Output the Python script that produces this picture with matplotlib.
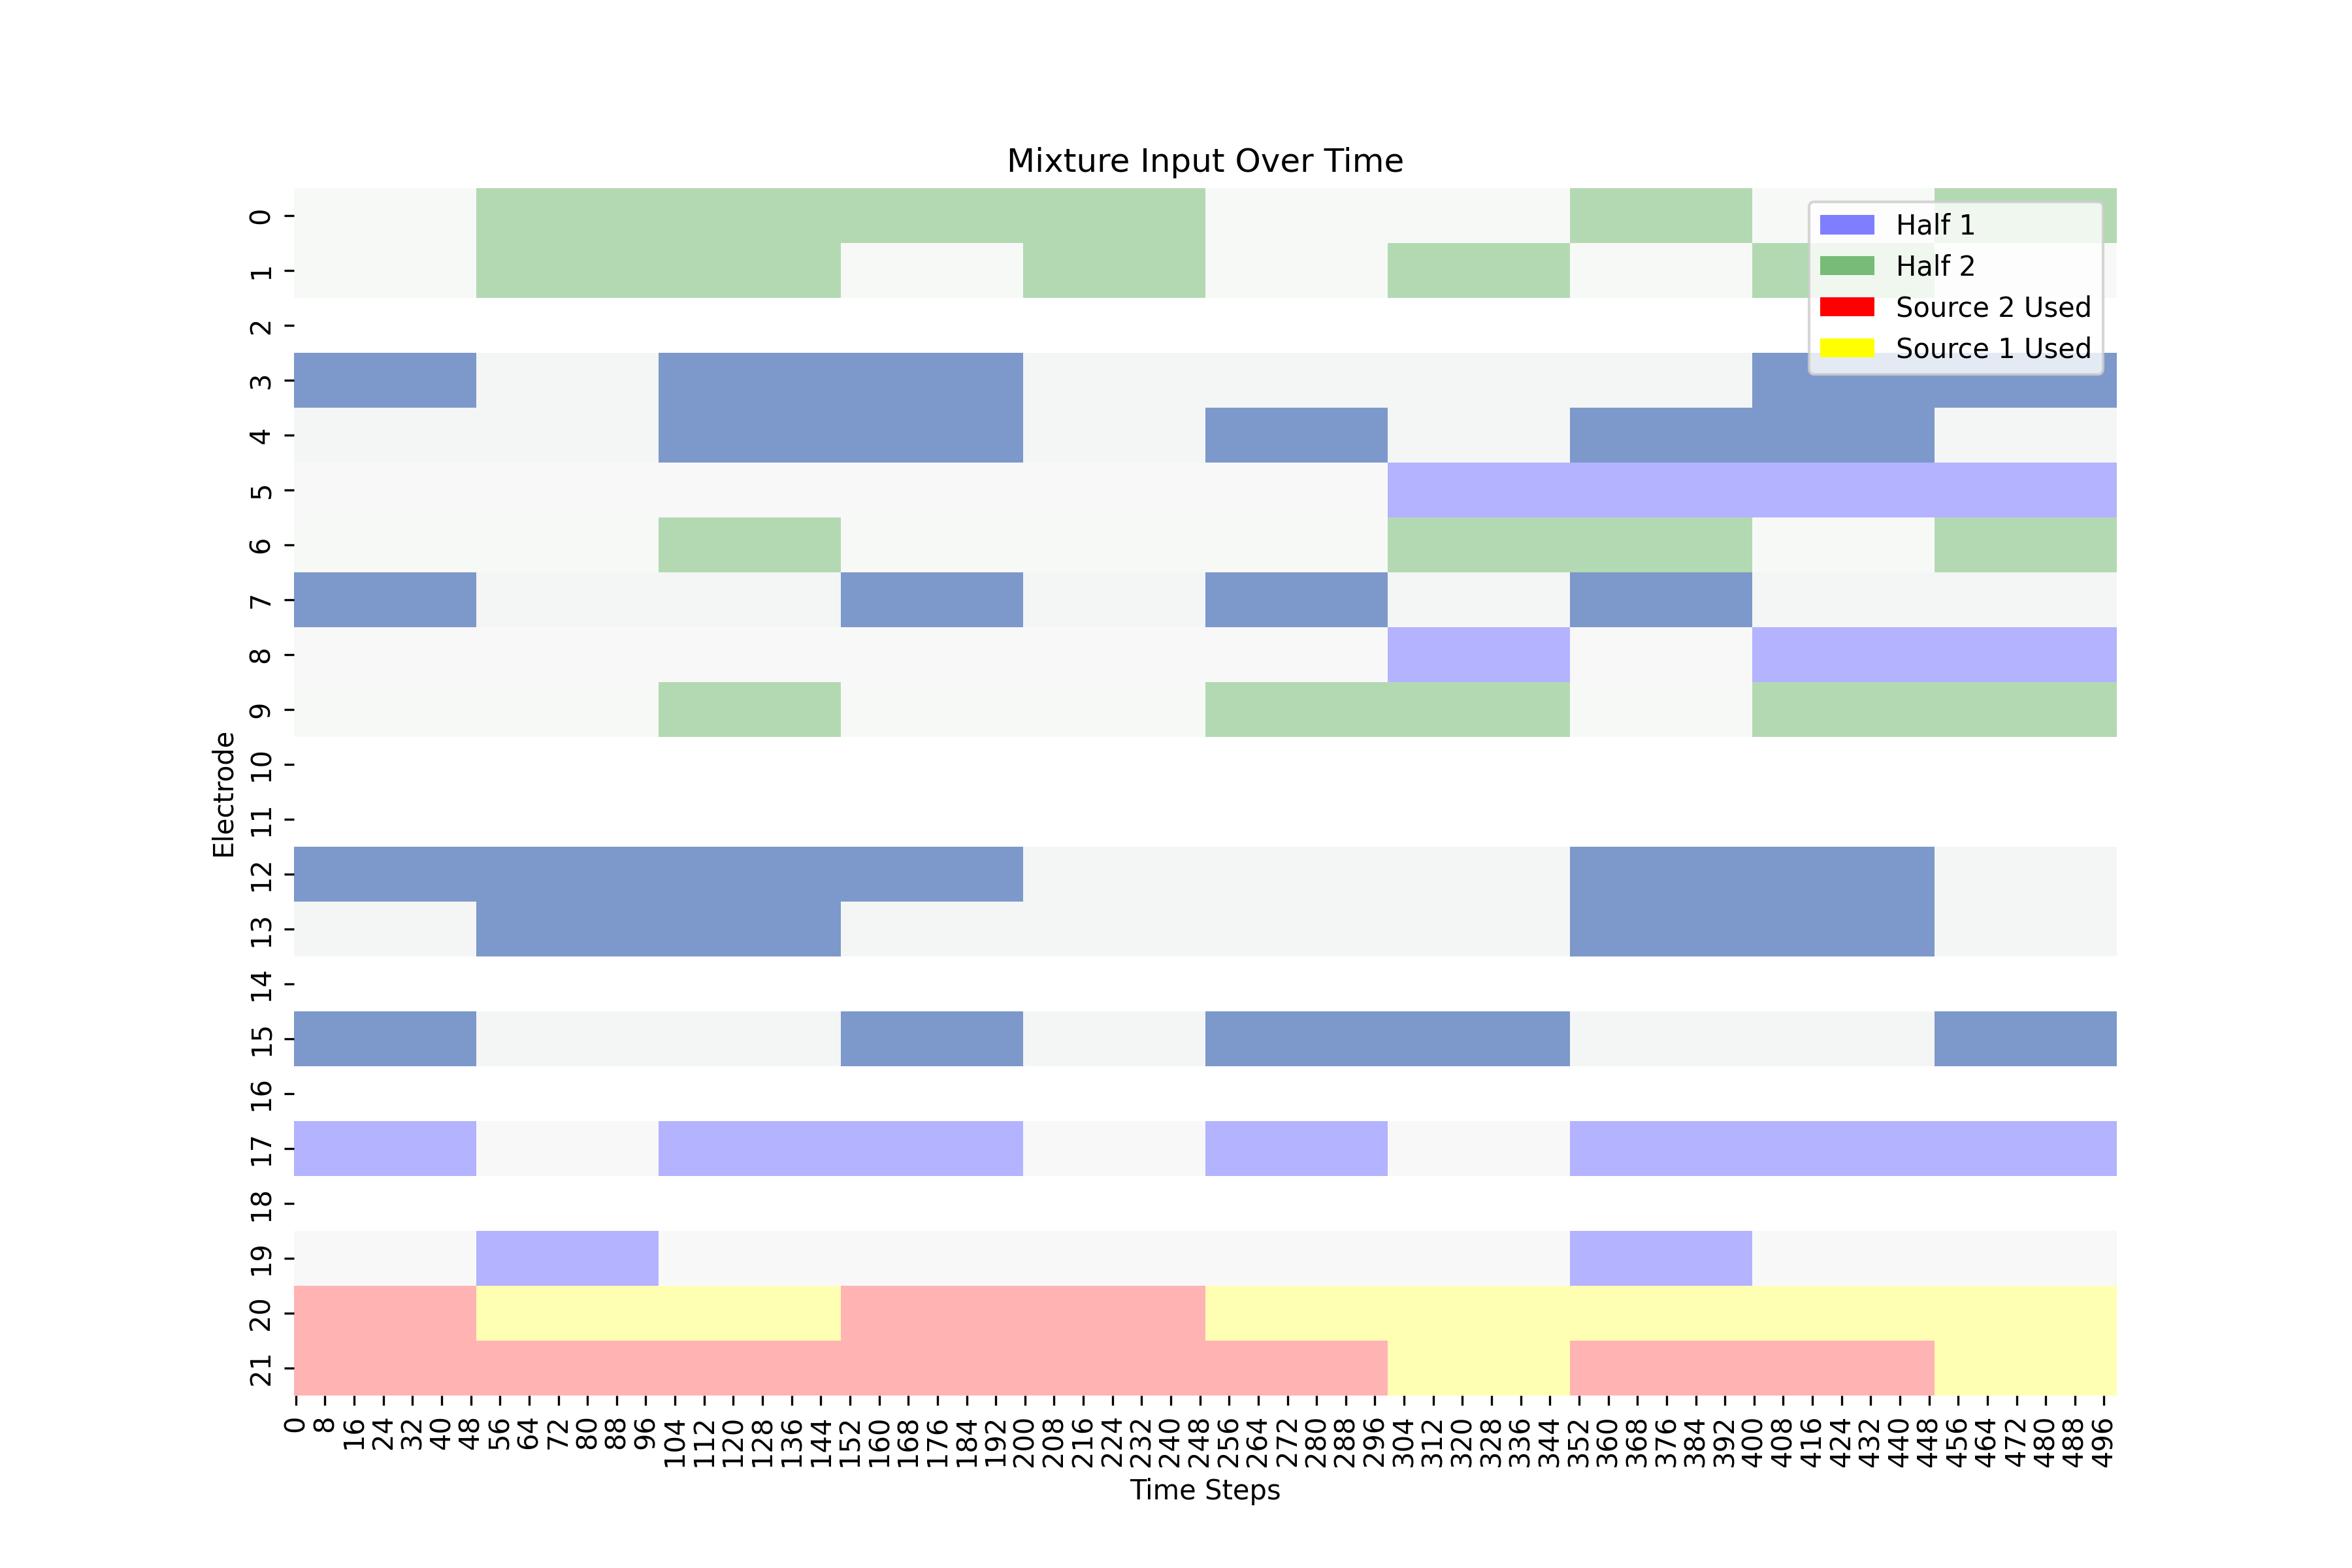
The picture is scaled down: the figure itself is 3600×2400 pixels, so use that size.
import numpy as np
import matplotlib
matplotlib.use("Agg")
import matplotlib.pyplot as plt
import matplotlib.patches as mpatches
from matplotlib.colors import ListedColormap
import seaborn as sns

# 22 electrodes x 500 time steps, switched in blocks of 50 steps
n_rows = 22
n_steps = 500
block_len = 50

# Half 2 only (green) electrodes
half2_rows = [0, 1, 6, 9]
half2_blocks = [
    [0, 1, 1, 1, 1, 0, 0, 1, 0, 1],
    [0, 1, 1, 0, 1, 0, 1, 0, 1, 0],
    [0, 0, 1, 0, 0, 0, 1, 1, 0, 1],
    [0, 0, 1, 0, 0, 1, 1, 0, 1, 1],
]
# Half 1 only (blue) electrodes
half1_rows = [5, 8, 17, 19]
half1_blocks = [
    [0, 0, 0, 0, 0, 0, 1, 1, 1, 1],
    [0, 0, 0, 0, 0, 0, 1, 0, 1, 1],
    [1, 0, 1, 1, 0, 1, 0, 1, 1, 1],
    [0, 1, 0, 0, 0, 0, 0, 1, 0, 0],
]
# electrodes in both halves (blue over green)
both_rows = [3, 4, 7, 12, 13, 15]
both_blocks = [
    [1, 0, 1, 1, 0, 0, 0, 0, 1, 1],
    [0, 0, 1, 1, 0, 1, 0, 1, 1, 0],
    [1, 0, 0, 1, 0, 1, 0, 1, 0, 0],
    [1, 1, 1, 1, 0, 0, 0, 1, 1, 0],
    [0, 1, 1, 0, 0, 0, 0, 1, 1, 0],
    [1, 0, 0, 1, 0, 1, 1, 0, 0, 1],
]
# source rows: 1 = source 1 used (yellow), 2 = source 2 used (red)
source_rows = [20, 21]
source_blocks = [
    [2, 1, 1, 2, 2, 1, 1, 1, 1, 1],
    [2, 2, 2, 2, 2, 2, 1, 2, 2, 1],
]

# colour codes
cell_colors = [
    (247/255, 249/255, 247/255),  # 0 green row, off
    (179/255, 217/255, 179/255),  # 1 green on
    (244/255, 246/255, 245/255),  # 2 shared row, off
    (125/255, 152/255, 202/255),  # 3 shared on
    (248/255, 248/255, 249/255),  # 4 blue row, off
    (179/255, 179/255, 255/255),  # 5 blue on
    (255/255, 255/255, 179/255),  # 6 source 1 (yellow)
    (255/255, 179/255, 179/255),  # 7 source 2 (red)
]
cmap = ListedColormap(cell_colors)

grid = np.full((n_rows, n_steps), np.nan)
for r, b in zip(half2_rows, half2_blocks):
    grid[r] = np.repeat(np.array(b) * 1 + 0, block_len)
for r, b in zip(both_rows, both_blocks):
    grid[r] = np.repeat(np.array(b) * 1 + 2, block_len)
for r, b in zip(half1_rows, half1_blocks):
    grid[r] = np.repeat(np.array(b) * 1 + 4, block_len)
for r, b in zip(source_rows, source_blocks):
    grid[r] = np.repeat(np.array(b) + 5, block_len)

fig = plt.figure(figsize=(12, 8), dpi=300)
ax = sns.heatmap(grid, cmap=cmap, vmin=-0.5, vmax=7.5, cbar=False,
                 xticklabels=8, yticklabels=1, mask=np.isnan(grid))
plt.setp(ax.get_xticklabels(), rotation=90)
plt.setp(ax.get_yticklabels(), rotation=90, va="center")

handles = [
    mpatches.Patch(facecolor='blue', alpha=0.5, linewidth=0, label='Half 1'),
    mpatches.Patch(facecolor='green', alpha=0.5, linewidth=0, label='Half 2'),
    mpatches.Patch(facecolor='red', linewidth=0, label='Source 2 Used'),
    mpatches.Patch(facecolor='yellow', linewidth=0, label='Source 1 Used'),
]
ax.legend(handles=handles, loc='upper right')
ax.set_title('Mixture Input Over Time')
ax.set_xlabel('Time Steps')
ax.set_ylabel('Electrode')
plt.savefig('out.png', dpi=300)
